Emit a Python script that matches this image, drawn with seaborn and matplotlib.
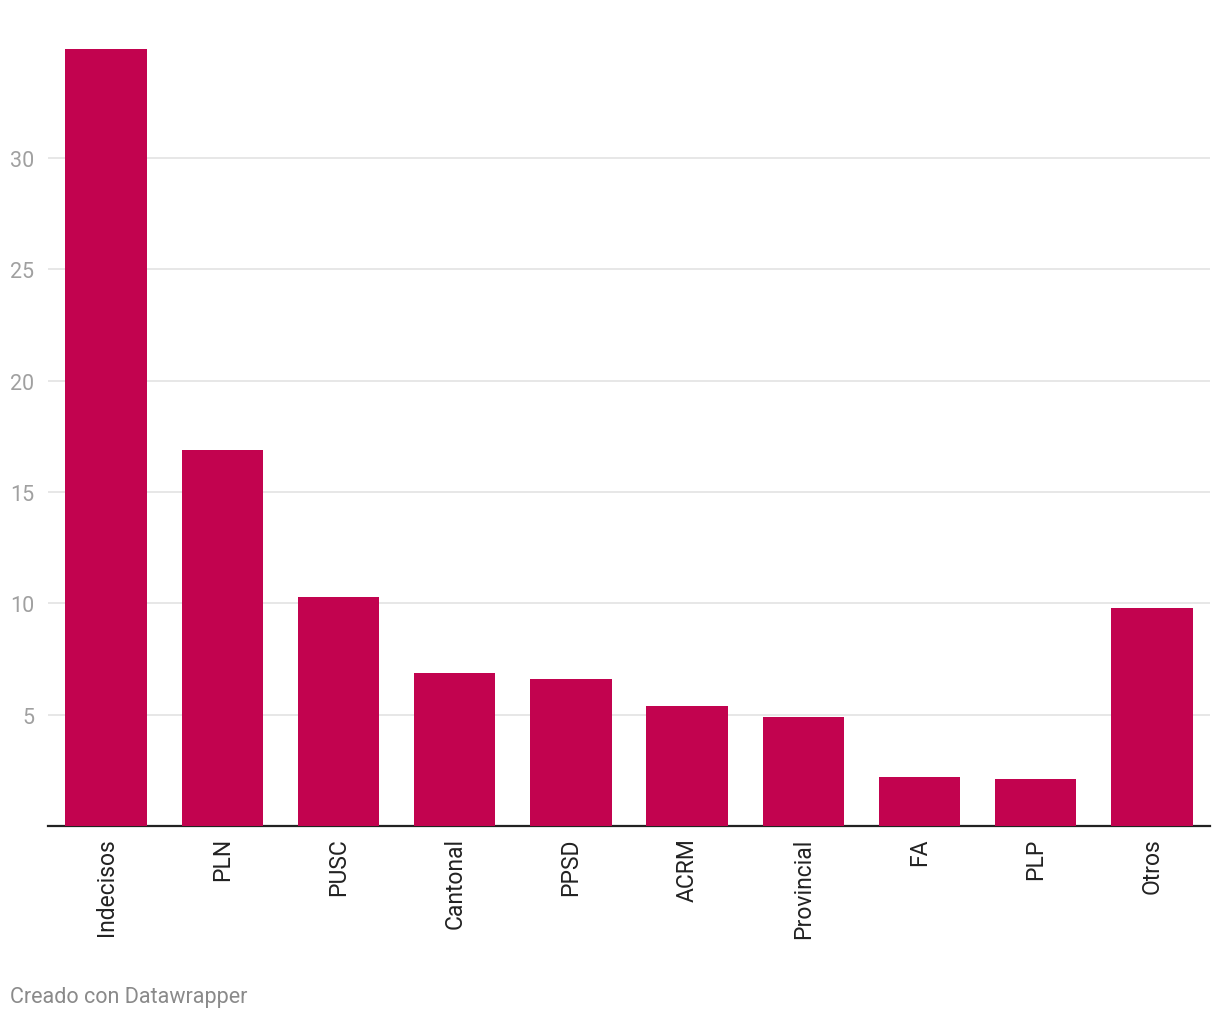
import matplotlib
matplotlib.use("Agg")
import matplotlib.pyplot as plt
import seaborn as sns
import pandas as pd

# ---------------------------------------------------------------------------
# Data
# ---------------------------------------------------------------------------
parties = ["Indecisos", "PLN", "PUSC", "Cantonal", "PPSD",
           "ACRM", "Provincial", "FA", "PLP", "Otros"]
values = [34.9, 16.9, 10.3, 6.9, 6.6, 5.4, 4.9, 2.2, 2.1, 9.8]
y_ticks = [5, 10, 15, 20, 25, 30]

df = pd.DataFrame({"party": parties, "value": values})

sns.set_style("white")
plt.rcParams["font.family"] = ["Roboto", "DejaVu Sans"]

fig = plt.figure(figsize=(12.2, 10.2), dpi=100)
ax = fig.add_axes([0.0393, 0.1890, 0.9525, 0.7643])

sns.barplot(data=df, x="party", y="value", color="#c2034f",
            saturation=1, width=0.70, linewidth=0, ax=ax, zorder=3)

ax.set_xlim(-0.5, len(parties) - 0.5)
ax.set_ylim(0, 35)
ax.set_yticks(y_ticks)
ax.set_yticklabels([str(t) for t in y_ticks], color="#a0a0a0", fontsize=15.5)
ax.grid(axis="y", color="#e3e3e3", linewidth=1.2, zorder=0)
ax.tick_params(axis="y", length=0, pad=10)
ax.tick_params(axis="x", length=0, pad=8)
plt.setp(ax.get_xticklabels(), rotation=90, fontsize=16.5, color="#222222",
         ha="center", va="top")

for side in ["top", "right", "left"]:
    ax.spines[side].set_visible(False)
ax.spines["bottom"].set_color("#222222")
ax.spines["bottom"].set_linewidth(1.6)
ax.set_xlabel("")
ax.set_ylabel("")

fig.text(0.008, 0.012, "Creado con Datawrapper", color="#8a8a8a",
         fontsize=15.5, ha="left", va="bottom")

fig.savefig("out.png", dpi=100)
plt.close(fig)
